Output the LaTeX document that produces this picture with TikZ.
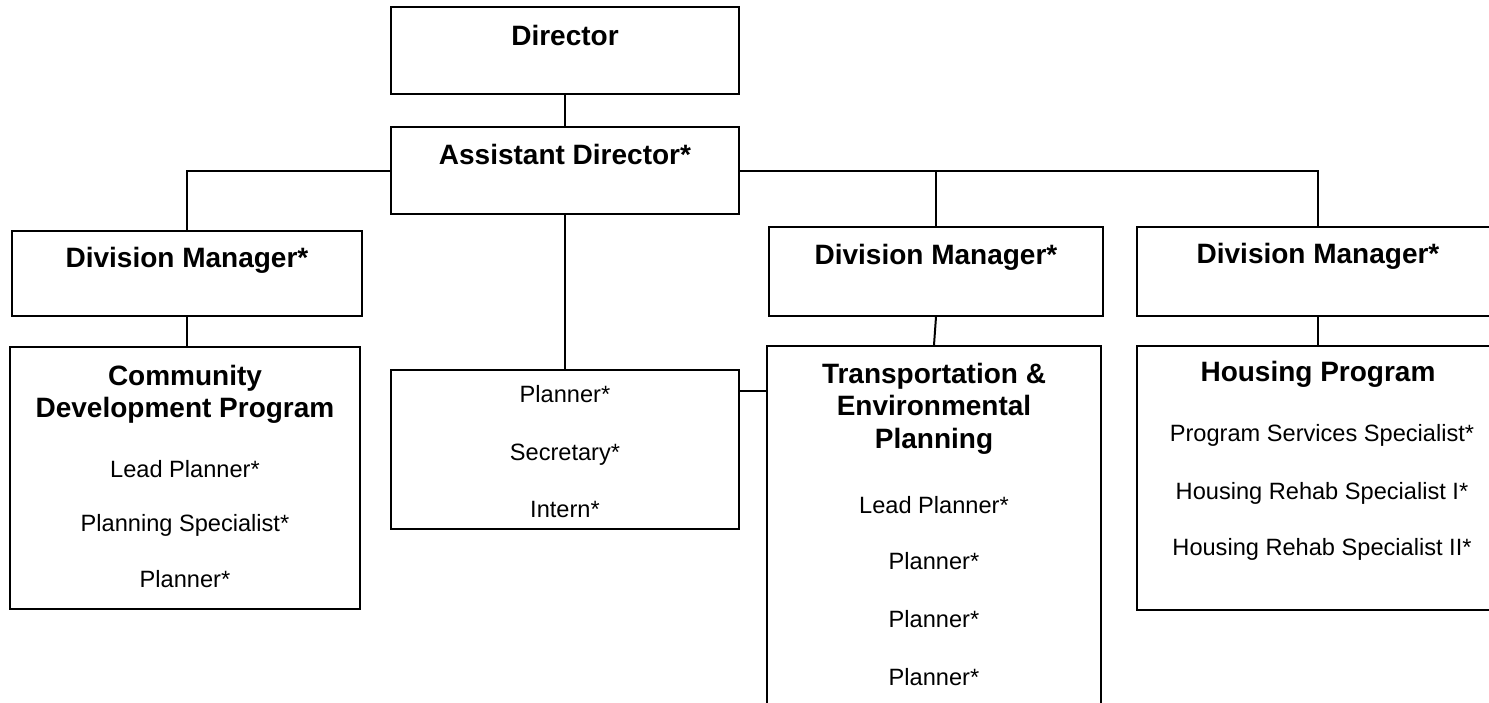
\documentclass[tikz,border=0pt]{standalone}
\usepackage{fontspec}
\setmainfont{Liberation Sans}
\usepackage{tikz}

\tikzset{
  box/.style={draw, line width=1pt, inner sep=0pt},
  head/.style={anchor=base, inner sep=0pt, font=\fontsize{14}{16}\selectfont\bfseries},
  role/.style={anchor=base, inner sep=0pt, font=\fontsize{11.8}{14}\selectfont},
  wire/.style={line width=1pt}
}

\begin{document}
\begin{tikzpicture}[x=0.5pt, y=-0.5pt]
\useasboundingbox (0,0) rectangle (1489,702);
\clip (0,0) rectangle (1489,702);

% boxes
\node[box, minimum width=174pt, minimum height=43.5pt] (dir) at (565,50.5) {};
\node[box, minimum width=174pt, minimum height=43.5pt] (asst) at (565,170.5) {};
\node[box, minimum width=175pt, minimum height=42.5pt] (dmL) at (187,273.5) {};
\node[box, minimum width=175pt, minimum height=131pt] (cdp) at (185,478) {};
\node[box, minimum width=174pt, minimum height=79.5pt] (staff) at (565,449.5) {};
\node[box, minimum width=167pt, minimum height=44.5pt] (dmM) at (936,271.5) {};
\node[box, minimum width=167pt, minimum height=187pt] (tep) at (934,533) {};
\node[box, minimum width=181pt, minimum height=44.5pt] (dmR) at (1318,271.5) {};
\node[box, minimum width=181pt, minimum height=132pt] (hsg) at (1318,478) {};

% titles
\node[head] (dirT) at (565,45) {Director};
\node[head] (asstT) at (565,164) {Assistant Director*};
\node[head] (dmLT) at (187,267) {Division Manager*};
\node[head] (dmMT) at (936,264) {Division Manager*};
\node[head] (dmRT) at (1318,263) {Division Manager*};

% community development
\node[head] (cdpA) at (185,385) {Community};
\node[head] (cdpB) at (185,417) {Development Program};
\node[role] (cdpC) at (185,477) {Lead Planner*};
\node[role] (cdpD) at (185,531) {Planning Specialist*};
\node[role] (cdpE) at (185,587) {Planner*};

% staff
\node[role] (staffA) at (565,402) {Planner*};
\node[role] (staffB) at (565,460) {Secretary*};
\node[role] (staffC) at (565,517) {Intern*};

% transportation
\node[head] (tepA) at (934,383) {Transportation \&};
\node[head] (tepB) at (934,415) {Environmental};
\node[head] (tepC) at (934,448) {Planning};
\node[role] (tepD) at (934,513) {Lead Planner*};
\node[role] (tepE) at (934,569) {Planner*};
\node[role] (tepF) at (934,627) {Planner*};
\node[role] (tepG) at (934,685) {Planner*};

% housing
\node[head] (hsgA) at (1318,381) {Housing Program};
\node[role] (hsgB) at (1322,441) {Program Services Specialist*};
\node[role] (hsgC) at (1322,499) {Housing Rehab Specialist I*};
\node[role] (hsgD) at (1322,555) {Housing Rehab Specialist II*};

% lines
\draw[wire] (dir) -- (asst);
\draw[wire] (asst.west) -| (dmL.north);
\draw[wire] (asst.east) -| (dmM.north);
\draw[wire] (asst.east) -| (dmR.north);
\draw[wire] (dmL.south) -- (dmL.south |- cdp.north);
\draw[wire] (asst) -- (staff);
\coordinate (tie) at (768,391);
\draw[wire] (tie -| staff.east) -- (tie);
\draw[wire] (dmM.south) -- (tep.north);
\draw[wire] (dmR) -- (hsg);
\end{tikzpicture}
\end{document}
